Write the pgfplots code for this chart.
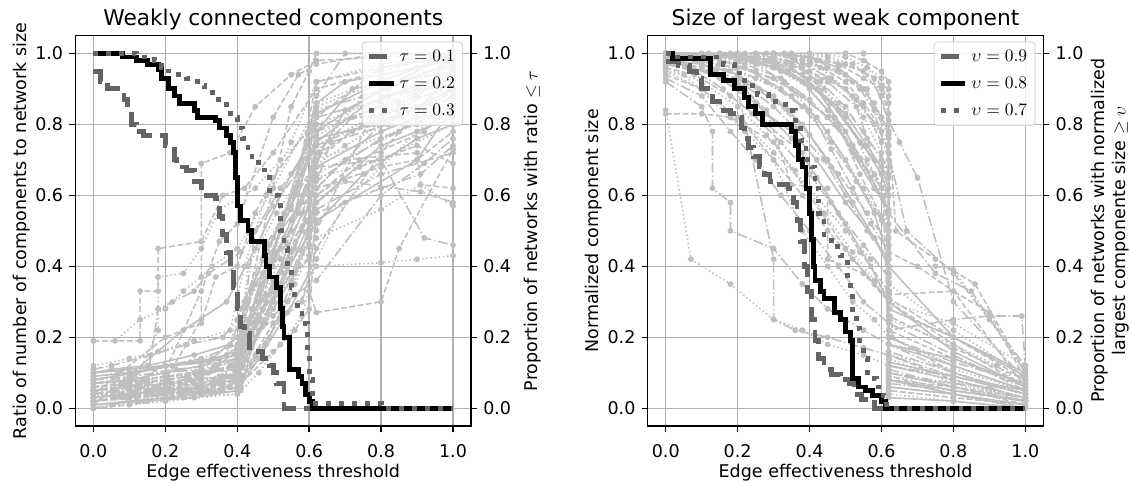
\documentclass[border=0pt]{standalone}
\usepackage[no-math]{fontspec}
\setmainfont{DejaVu Sans}
\usepackage{pgfplots}
\pgfplotsset{compat=1.18}

\definecolor{gry}{RGB}{191,191,191}
\definecolor{dk}{RGB}{100,100,100}
\definecolor{gridc}{RGB}{176,176,176}

\tikzset{
  gl/.style={color=gry, line width=0.9pt, mark=*, mark size=1.2pt, mark options={solid}},
  ga/.style={gl, dash pattern=on 3.3pt off 1.5pt},
  gb/.style={gl, dash pattern=on 5.8pt off 1.5pt on 0.9pt off 1.5pt},
  gc/.style={gl, dash pattern=on 0.9pt off 1.5pt},
  gd/.style={gl},
  t1/.style={color=dk, line width=2.8pt, dash pattern=on 10.4pt off 4.5pt},
  t2/.style={color=black, line width=2.8pt},
  t3/.style={color=dk, line width=2.8pt, dash pattern=on 2.8pt off 4.6pt},
}

\pgfplotsset{
  base/.style={
    width=226pt, height=223pt, scale only axis,
    xmin=-0.05, xmax=1.05, ymin=-0.05, ymax=1.05,
    xtick={0,0.2,0.4,0.6,0.8,1.0}, ytick={0,0.2,0.4,0.6,0.8,1.0},
    /pgf/number format/.cd, fixed, fixed zerofill, precision=1, assume math mode=true, /pgfplots/.cd,
    tick label style={font=\fontsize{10}{12}\selectfont},
    label style={font=\fontsize{10}{12}\selectfont},
    tick align=outside, major tick length=3.5pt,
    every tick/.style={black, line width=0.8pt},
    axis line style={line width=0.8pt},
  },
  mainax/.style={base,
    xtick pos=bottom, ytick pos=left,
    xticklabel style={yshift=-3.5pt},
    xlabel style={yshift=3pt},
    ylabel style={yshift=-4pt},
    grid=major, grid style={color=gridc, line width=0.8pt},
    title style={font=\fontsize{12.4}{14}\selectfont, yshift=-6pt},
    xlabel={Edge effectiveness threshold},
  },
  twinax/.style={base,
    axis x line=none, axis y line*=right, yticklabel pos=right,
    legend cell align=left,
    legend style={at={(0.98,0.985)}, anchor=north east,
      font=\fontsize{10}{12}\selectfont, draw=gridc!70, rounded corners=2pt,
      fill=white, fill opacity=0.8, draw opacity=1, text opacity=1,
      row sep=3.5pt, inner sep=2.5pt},
    legend image code/.code={\draw[#1] (0pt,0pt) -- (14pt,0pt);},
  },
}

\begin{document}
\begin{tikzpicture}
\useasboundingbox (-43.1pt,-32.6pt) rectangle (603.1pt,243.4pt);

%% ---------------- left panel ----------------
\begin{axis}[mainax, title={Weakly connected components},
  ylabel={Ratio of number of components to network size}]
\addplot[ga] coordinates {(0,0.02)(0.08,0.03)(0.18,0.05)(0.3,0.07)(0.4,0.10)(0.48,0.30)(0.58,0.55)(0.63,0.72)(0.75,0.80)(0.9,0.88)(1,0.95)};
\addplot[gb] coordinates {(0,0.05)(0.1,0.06)(0.2,0.08)(0.32,0.10)(0.41,0.15)(0.5,0.35)(0.6,0.60)(0.62,0.78)(0.8,0.85)(1,0.90)};
\addplot[gc] coordinates {(0,0.01)(0.12,0.02)(0.25,0.04)(0.38,0.06)(0.42,0.20)(0.52,0.42)(0.61,0.68)(0.7,0.74)(0.85,0.83)(1,0.88)};
\addplot[gd] coordinates {(0,0.10)(0.05,0.11)(0.15,0.12)(0.28,0.15)(0.38,0.18)(0.45,0.35)(0.55,0.50)(0.62,0.83)(0.8,0.92)(1,1.0)};
\addplot[ga] coordinates {(0,0.0)(0.1,0.01)(0.22,0.03)(0.35,0.05)(0.4,0.08)(0.46,0.22)(0.56,0.45)(0.62,0.60)(0.74,0.70)(0.92,0.78)(1,0.86)};
\addplot[gb] coordinates {(0,0.04)(0.09,0.06)(0.2,0.07)(0.3,0.09)(0.39,0.12)(0.44,0.28)(0.5,0.40)(0.6,0.58)(0.66,0.75)(0.82,0.80)(1,0.92)};
\addplot[ga] coordinates {(0,0.19)(0.13,0.19)(0.13,0.33)(0.18,0.33)(0.18,0.45)(0.3,0.47)(0.36,0.60)(0.42,0.62)(0.5,0.72)(0.62,0.90)(0.8,0.95)(1,1.0)};
\addplot[gc] coordinates {(0,0.03)(0.06,0.05)(0.17,0.06)(0.27,0.08)(0.37,0.09)(0.4,0.10)(0.43,0.30)(0.53,0.48)(0.62,0.70)(0.9,0.80)(1,0.84)};
\addplot[gd] coordinates {(0,0.07)(0.1,0.08)(0.2,0.10)(0.3,0.12)(0.4,0.14)(0.47,0.38)(0.55,0.57)(0.62,0.75)(0.75,0.85)(1,0.95)};
\addplot[gb] coordinates {(0,0.02)(0.15,0.04)(0.3,0.06)(0.41,0.08)(0.49,0.20)(0.57,0.40)(0.62,0.55)(0.8,0.62)(0.91,0.66)(1,0.74)};
\addplot[ga] coordinates {(0,0.06)(0.08,0.07)(0.2,0.09)(0.33,0.11)(0.4,0.16)(0.42,0.30)(0.52,0.52)(0.62,0.70)(0.72,0.78)(0.92,0.84)(1,0.90)};
\addplot[gc] coordinates {(0,0.0)(0.2,0.02)(0.4,0.04)(0.44,0.12)(0.54,0.30)(0.6,0.48)(0.62,0.65)(0.8,0.70)(1,0.80)};
\addplot[gb] coordinates {(0,0.11)(0.05,0.12)(0.16,0.15)(0.26,0.18)(0.36,0.20)(0.4,0.25)(0.48,0.46)(0.56,0.60)(0.62,0.84)(0.82,0.90)(1,0.98)};
\addplot[ga] coordinates {(0,0.03)(0.12,0.05)(0.24,0.06)(0.36,0.08)(0.4,0.11)(0.5,0.33)(0.62,0.62)(0.7,0.70)(0.9,0.72)(0.91,0.63)(1,0.62)};
\addplot[gb] coordinates {(0,0.05)(0.1,0.06)(0.2,0.07)(0.29,0.09)(0.38,0.12)(0.46,0.26)(0.58,0.50)(0.62,0.68)(0.8,0.70)(0.92,0.48)(1,0.46)};
\addplot[ga] coordinates {(0,0.02)(0.12,0.03)(0.25,0.05)(0.4,0.07)(0.5,0.24)(0.6,0.33)(0.62,0.27)(0.8,0.30)(0.85,0.45)(1,0.73)};
\addplot[gc] coordinates {(0,0.04)(0.1,0.05)(0.22,0.07)(0.35,0.09)(0.4,0.13)(0.45,0.24)(0.53,0.40)(0.62,0.40)(0.8,0.41)(0.9,0.42)(1,0.43)};
\addplot[gb] coordinates {(0,0.08)(0.1,0.10)(0.2,0.12)(0.3,0.14)(0.4,0.18)(0.47,0.42)(0.57,0.63)(0.62,0.88)(0.7,1.0)(1,1.0)};
\addplot[gd] coordinates {(0,0.01)(0.1,0.02)(0.2,0.03)(0.3,0.04)(0.41,0.05)(0.44,0.17)(0.5,0.28)(0.56,0.38)(0.62,0.58)(0.8,0.74)(1,0.82)};
\addplot[ga] coordinates {(0,0.06)(0.13,0.07)(0.26,0.09)(0.39,0.11)(0.41,0.22)(0.55,0.85)(0.6,0.95)(0.62,1.0)(0.8,1.0)(1,1.0)};
\addplot[ga] coordinates {(0,0.03)(0.18,0.06)(0.3,0.33)(0.35,0.47)(0.4,0.52)(0.5,0.82)(0.57,0.94)(0.62,0.97)(0.8,1.0)(1,1.0)};
\addplot[ga] coordinates {(0,0.05)(0.2,0.08)(0.3,0.25)(0.3,0.69)(0.38,0.72)(0.45,0.85)(0.55,0.94)(0.62,0.98)(1,1.0)};
\addplot[gc] coordinates {(0,0.02)(0.1,0.04)(0.18,0.22)(0.18,0.37)(0.25,0.38)(0.3,0.45)(0.35,0.56)(0.45,0.62)(0.52,0.70)(0.62,0.80)(0.82,0.88)(1,0.97)};
\addplot[gb] coordinates {(0,0.0)(0.05,0.01)(0.15,0.02)(0.28,0.04)(0.36,0.05)(0.41,0.06)(0.43,0.18)(0.5,0.36)(0.58,0.50)(0.62,0.66)(0.85,0.78)(1,0.88)};
\addplot[gc] coordinates {(0,0.09)(0.07,0.10)(0.17,0.11)(0.27,0.13)(0.37,0.15)(0.41,0.28)(0.49,0.46)(0.56,0.62)(0.62,0.77)(0.8,0.86)(1,0.94)};
\addplot[gd] coordinates {(0,0.03)(0.08,0.04)(0.19,0.05)(0.29,0.06)(0.39,0.08)(0.47,0.23)(0.53,0.38)(0.62,0.52)(0.75,0.66)(0.9,0.76)(1,0.80)};
\addplot[gb] coordinates {(0,0.07)(0.11,0.09)(0.23,0.11)(0.34,0.12)(0.4,0.14)(0.45,0.50)(0.52,0.62)(0.6,0.72)(0.62,0.82)(0.9,0.90)(1,0.92)};
\addplot[ga] coordinates {(0,0.02)(0.06,0.03)(0.16,0.04)(0.26,0.05)(0.36,0.06)(0.4,0.07)(0.52,0.35)(0.6,0.42)(0.62,0.62)(0.8,0.68)(0.9,0.70)(1,0.78)};
\addplot[gc] coordinates {(0,0.05)(0.15,0.08)(0.3,0.10)(0.4,0.12)(0.43,0.40)(0.51,0.55)(0.58,0.66)(0.62,0.74)(0.85,0.86)(1,0.93)};
\addplot[gb] coordinates {(0,0.04)(0.1,0.05)(0.2,0.06)(0.3,0.08)(0.4,0.09)(0.41,0.20)(0.48,0.32)(0.55,0.44)(0.62,0.58)(0.7,0.64)(0.91,0.61)(1,0.58)};
\addplot[gd] coordinates {(0,0.01)(0.14,0.02)(0.28,0.03)(0.4,0.05)(0.46,0.14)(0.54,0.27)(0.6,0.38)(0.62,0.53)(0.9,0.70)(1,0.85)};
\addplot[gc] coordinates {(0,0.12)(0.1,0.14)(0.18,0.16)(0.28,0.19)(0.38,0.22)(0.42,0.40)(0.48,0.60)(0.55,0.75)(0.62,0.92)(0.8,0.97)(1,1.0)};
\addplot[ga] coordinates {(0,0.06)(0.09,0.07)(0.21,0.08)(0.31,0.10)(0.4,0.12)(0.46,0.32)(0.55,0.53)(0.6,0.64)(0.62,0.80)(0.8,0.83)(1,0.87)};
\addplot[gb] coordinates {(0,0.03)(0.11,0.04)(0.22,0.05)(0.33,0.07)(0.4,0.09)(0.51,0.44)(0.58,0.60)(0.62,0.72)(0.72,0.82)(1,0.93)};
\addplot[gc] coordinates {(0,0.0)(0.1,0.02)(0.2,0.04)(0.3,0.05)(0.4,0.06)(0.48,0.18)(0.56,0.35)(0.62,0.48)(0.8,0.56)(0.91,0.63)(1,0.57)};
\addplot[gc] coordinates {(0,0.19)(0.06,0.19)(0.13,0.25)(0.2,0.28)(0.25,0.33)(0.3,0.37)(0.33,0.40)(0.4,0.45)(0.5,0.62)(0.62,0.85)(1,1.0)};
\addplot[gd] coordinates {(0,0.08)(0.12,0.10)(0.22,0.12)(0.32,0.13)(0.4,0.15)(0.44,0.34)(0.53,0.55)(0.62,0.76)(0.78,0.80)(0.9,0.85)(1,0.90)};
\addplot[ga] coordinates {(0,0.05)(0.13,0.06)(0.26,0.08)(0.38,0.09)(0.41,0.12)(0.5,0.30)(0.6,0.46)(0.62,0.60)(0.74,0.68)(0.9,0.74)(1,0.69)};
\addplot[gb] coordinates {(0,0.02)(0.09,0.03)(0.18,0.04)(0.27,0.05)(0.36,0.07)(0.4,0.08)(0.45,0.20)(0.55,0.42)(0.62,0.64)(0.8,0.76)(1,0.85)};
\addplot[gd] coordinates {(0,0.10)(0.1,0.11)(0.2,0.12)(0.3,0.13)(0.4,0.16)(0.5,0.44)(0.57,0.68)(0.62,0.86)(0.7,0.92)(0.9,0.96)(1,0.98)};
\addplot[ga] coordinates {(0,0.04)(0.2,0.20)(0.3,0.24)(0.34,0.37)(0.4,0.40)(0.45,0.55)(0.5,0.65)(0.62,0.82)(0.8,0.96)(1,1.0)};
\addplot[gd] coordinates {(0,0.01)(0.25,0.22)(0.37,0.30)(0.45,0.45)(0.55,0.66)(0.62,0.78)(0.8,0.90)(1,1.0)};
\addplot[gb] coordinates {(0,0.07)(0.15,0.08)(0.18,0.28)(0.22,0.30)(0.28,0.33)(0.32,0.38)(0.41,0.44)(0.5,0.57)(0.62,0.74)(0.8,0.82)(1,0.92)};
\addplot[gd] coordinates {(0,0.03)(0.1,0.04)(0.2,0.05)(0.3,0.06)(0.4,0.10)(0.43,0.25)(0.47,0.35)(0.52,0.45)(0.57,0.55)(0.62,0.70)(0.7,0.84)(0.85,0.92)(1,0.97)};
\addplot[gb] coordinates {(0,0.08)(0.1,0.09)(0.2,0.10)(0.3,0.11)(0.4,0.13)(0.42,0.18)(0.5,0.30)(0.55,0.38)(0.6,0.50)(0.62,0.62)(0.8,0.80)(1,0.89)};
\addplot[ga] coordinates {(0,0.02)(0.1,0.03)(0.2,0.04)(0.32,0.05)(0.4,0.06)(0.45,0.15)(0.52,0.25)(0.58,0.30)(0.62,0.45)(0.8,0.72)(1,0.95)};
\addplot[gc] coordinates {(0,0.05)(0.12,0.06)(0.24,0.07)(0.36,0.09)(0.41,0.14)(0.47,0.28)(0.55,0.36)(0.6,0.43)(0.62,0.72)(0.75,0.88)(1,0.96)};
\addplot[gd] coordinates {(0,0.10)(0.2,0.12)(0.35,0.14)(0.4,0.17)(0.46,0.30)(0.52,0.50)(0.58,0.58)(0.62,0.68)(0.8,0.78)(0.9,0.82)(1,0.83)};
\addplot[gb] coordinates {(0,0.04)(0.15,0.05)(0.28,0.07)(0.39,0.09)(0.43,0.22)(0.5,0.26)(0.56,0.32)(0.62,0.36)(0.8,0.60)(0.92,0.69)(1,0.76)};
\addplot[gc] coordinates {(0,0.01)(0.1,0.02)(0.25,0.03)(0.4,0.04)(0.46,0.10)(0.52,0.18)(0.58,0.26)(0.62,0.42)(0.7,0.58)(0.9,0.78)(1,0.85)};
\addplot[ga] coordinates {(0,0.06)(0.14,0.08)(0.28,0.10)(0.4,0.12)(0.5,0.48)(0.55,0.56)(0.62,0.92)(0.8,0.96)(1,0.99)};
\addplot[gd] coordinates {(0,0.09)(0.1,0.10)(0.22,0.12)(0.33,0.14)(0.4,0.20)(0.44,0.24)(0.52,0.34)(0.6,0.52)(0.62,0.78)(0.72,0.90)(1,0.95)};
\addplot[gb] coordinates {(0,0.03)(0.2,0.05)(0.4,0.07)(0.42,0.16)(0.48,0.24)(0.54,0.46)(0.62,0.56)(0.8,0.66)(1,0.72)};
\addplot[gc] coordinates {(0,0.07)(0.1,0.08)(0.2,0.09)(0.3,0.10)(0.4,0.11)(0.43,0.20)(0.5,0.42)(0.58,0.70)(0.62,0.86)(0.8,0.93)(1,0.96)};
\addplot[ga] coordinates {(0,0.02)(0.12,0.03)(0.24,0.04)(0.36,0.05)(0.4,0.06)(0.5,0.16)(0.56,0.22)(0.6,0.28)(0.62,0.50)(0.8,0.88)(1,0.91)};
\end{axis}

\begin{axis}[twinax, ylabel style={yshift=-0.5pt},
  ylabel={Proportion of networks with ratio $\leq\tau$}]
\addplot[t1, const plot] coordinates {(0,0.95)(0.02,0.92)(0.04,0.90)(0.08,0.89)(0.085,0.87)(0.095,0.84)(0.105,0.80)(0.12,0.78)(0.14,0.77)(0.20,0.74)(0.225,0.70)(0.23,0.68)(0.26,0.67)(0.28,0.64)(0.30,0.60)(0.34,0.59)(0.35,0.54)(0.36,0.49)(0.37,0.44)(0.38,0.40)(0.39,0.34)(0.40,0.28)(0.41,0.23)(0.42,0.21)(0.435,0.16)(0.47,0.14)(0.49,0.12)(0.50,0.10)(0.51,0.07)(0.53,0.0)(1.0,0.0)};
\addlegendentry{$\tau=0.1$}
\addplot[t2, const plot] coordinates {(0,1.0)(0.08,0.99)(0.12,0.98)(0.15,0.97)(0.18,0.955)(0.19,0.93)(0.21,0.90)(0.225,0.88)(0.24,0.86)(0.28,0.84)(0.29,0.82)(0.34,0.81)(0.35,0.79)(0.37,0.77)(0.38,0.75)(0.39,0.72)(0.395,0.65)(0.40,0.57)(0.41,0.53)(0.43,0.50)(0.44,0.47)(0.475,0.43)(0.48,0.40)(0.49,0.37)(0.51,0.34)(0.52,0.28)(0.525,0.23)(0.53,0.20)(0.545,0.11)(0.57,0.09)(0.58,0.07)(0.59,0.04)(0.60,0.02)(0.61,0.0)(1.0,0.0)};
\addlegendentry{$\tau=0.2$}
\addplot[t3, const plot] coordinates {(0,1.0)(0.12,0.99)(0.17,0.98)(0.19,0.96)(0.21,0.94)(0.26,0.93)(0.29,0.91)(0.31,0.89)(0.33,0.87)(0.37,0.84)(0.38,0.82)(0.40,0.79)(0.415,0.76)(0.43,0.71)(0.46,0.68)(0.475,0.65)(0.49,0.60)(0.515,0.58)(0.52,0.50)(0.53,0.45)(0.54,0.40)(0.55,0.34)(0.56,0.29)(0.58,0.24)(0.595,0.16)(0.60,0.08)(0.61,0.013)(0.80,0.0)(1.0,0.0)};
\addlegendentry{$\tau=0.3$}
\end{axis}

%% ---------------- right panel ----------------
\begin{scope}[xshift=327pt]
\begin{axis}[mainax, title={Size of largest weak component},
  ylabel={Normalized component size}]
\addplot[ga] coordinates {(0,1.0)(0.15,1.0)(0.3,0.98)(0.4,0.95)(0.5,0.9)(0.55,0.85)(0.6,0.75)(0.62,0.15)(0.8,0.08)(1,0.03)};
\addplot[gb] coordinates {(0,1.0)(0.2,1.0)(0.35,0.97)(0.45,0.92)(0.53,0.85)(0.58,0.70)(0.62,0.60)(0.62,0.10)(0.8,0.06)(1,0.02)};
\addplot[gc] coordinates {(0,0.98)(0.1,0.97)(0.25,0.93)(0.35,0.88)(0.45,0.78)(0.55,0.62)(0.62,0.50)(0.62,0.20)(0.8,0.12)(1,0.05)};
\addplot[gb] coordinates {(0,1.0)(0.25,1.0)(0.4,1.0)(0.5,1.0)(0.55,1.0)(0.62,0.81)(0.65,0.75)(0.7,0.65)(0.8,0.30)(1,0.08)};
\addplot[ga] coordinates {(0,1.0)(0.3,1.0)(0.45,0.98)(0.55,0.95)(0.6,0.88)(0.62,0.80)(0.64,0.50)(0.75,0.42)(0.86,0.35)(1,0.10)};
\addplot[gd] coordinates {(0,1.0)(0.12,0.99)(0.22,0.96)(0.32,0.9)(0.42,0.82)(0.5,0.70)(0.58,0.55)(0.62,0.42)(0.62,0.08)(0.8,0.04)(1,0.0)};
\addplot[ga] coordinates {(0,0.96)(0.08,0.94)(0.18,0.88)(0.28,0.80)(0.38,0.72)(0.46,0.58)(0.54,0.44)(0.62,0.33)(0.62,0.05)(0.8,0.03)(1,0.01)};
\addplot[gc] coordinates {(0,0.84)(0.07,0.42)(0.18,0.35)(0.3,0.25)(0.38,0.22)(0.45,0.18)(0.55,0.15)(0.62,0.12)(0.8,0.08)(1,0.02)};
\addplot[gb] coordinates {(0,0.92)(0.1,0.85)(0.13,0.78)(0.13,0.62)(0.18,0.58)(0.18,0.50)(0.3,0.45)(0.38,0.35)(0.45,0.28)(0.55,0.22)(0.62,0.18)(0.8,0.10)(1,0.04)};
\addplot[ga] coordinates {(0,0.83)(0.1,0.83)(0.18,0.82)(0.3,0.75)(0.4,0.60)(0.5,0.45)(0.62,0.30)(0.62,0.12)(0.8,0.08)(1,0.03)};
\addplot[gb] coordinates {(0,0.97)(0.12,0.95)(0.2,0.90)(0.3,0.42)(0.3,0.25)(0.36,0.22)(0.45,0.20)(0.55,0.17)(0.62,0.15)(0.8,0.09)(1,0.04)};
\addplot[gc] coordinates {(0,1.0)(0.2,1.0)(0.3,1.0)(0.38,0.98)(0.45,0.93)(0.52,0.88)(0.58,0.80)(0.62,0.74)(0.62,0.25)(0.8,0.18)(0.92,0.12)(1,0.06)};
\addplot[gd] coordinates {(0,1.0)(0.1,1.0)(0.25,0.99)(0.35,0.96)(0.42,0.90)(0.5,0.78)(0.57,0.65)(0.62,0.56)(0.62,0.18)(0.8,0.12)(1,0.05)};
\addplot[gb] coordinates {(0,0.99)(0.15,0.98)(0.25,0.95)(0.35,0.90)(0.45,0.82)(0.52,0.73)(0.6,0.62)(0.62,0.55)(0.75,0.38)(0.85,0.33)(1,0.10)};
\addplot[ga] coordinates {(0,1.0)(0.2,1.0)(0.33,1.0)(0.4,0.99)(0.48,0.97)(0.55,0.93)(0.6,0.90)(0.62,0.83)(0.62,0.32)(0.8,0.33)(0.9,0.27)(1,0.08)};
\addplot[gc] coordinates {(0,0.95)(0.1,0.9)(0.2,0.82)(0.3,0.72)(0.4,0.62)(0.5,0.50)(0.57,0.42)(0.62,0.38)(0.62,0.14)(0.8,0.07)(1,0.02)};
\addplot[gb] coordinates {(0,1.0)(0.25,0.99)(0.4,0.97)(0.5,0.94)(0.56,0.90)(0.62,0.70)(0.62,0.22)(0.8,0.25)(0.9,0.26)(0.99,0.26)(1,0.12)};
\addplot[gd] coordinates {(0,1.0)(0.18,1.0)(0.28,0.98)(0.38,0.94)(0.46,0.86)(0.54,0.75)(0.6,0.68)(0.62,0.62)(0.62,0.06)(0.8,0.04)(1,0.01)};
\addplot[ga] coordinates {(0,0.97)(0.1,0.96)(0.2,0.93)(0.3,0.87)(0.4,0.77)(0.48,0.66)(0.56,0.55)(0.62,0.46)(0.62,0.10)(0.8,0.06)(1,0.03)};
\addplot[gc] coordinates {(0,1.0)(0.3,1.0)(0.4,1.0)(0.5,0.99)(0.56,0.96)(0.6,0.93)(0.62,0.88)(0.62,0.40)(0.75,0.40)(0.8,0.39)(1,0.11)};
\addplot[gd] coordinates {(0,0.98)(0.05,0.97)(0.15,0.93)(0.25,0.86)(0.35,0.76)(0.42,0.65)(0.5,0.52)(0.57,0.40)(0.62,0.30)(0.8,0.16)(1,0.06)};
\addplot[gb] coordinates {(0,1.0)(0.1,0.99)(0.22,0.97)(0.32,0.93)(0.4,0.87)(0.47,0.80)(0.54,0.70)(0.6,0.60)(0.62,0.52)(0.62,0.20)(0.8,0.13)(1,0.07)};
\addplot[ga] coordinates {(0,0.94)(0.1,0.9)(0.22,0.80)(0.3,0.70)(0.38,0.60)(0.45,0.50)(0.52,0.42)(0.58,0.35)(0.62,0.31)(0.8,0.20)(1,0.08)};
\addplot[gc] coordinates {(0,1.0)(0.2,1.0)(0.35,0.99)(0.45,0.96)(0.52,0.92)(0.58,0.86)(0.62,0.78)(0.62,0.05)(0.8,0.03)(1,0.01)};
\addplot[gb] coordinates {(0,0.99)(0.15,0.97)(0.28,0.92)(0.38,0.85)(0.46,0.75)(0.53,0.64)(0.6,0.53)(0.62,0.48)(0.62,0.16)(0.8,0.10)(1,0.04)};
\addplot[gd] coordinates {(0,1.0)(0.12,1.0)(0.24,0.98)(0.34,0.95)(0.42,0.90)(0.5,0.83)(0.56,0.74)(0.62,0.65)(0.62,0.28)(0.8,0.20)(1,0.10)};
\addplot[gc] coordinates {(0,0.96)(0.1,0.92)(0.2,0.85)(0.28,0.77)(0.36,0.67)(0.44,0.55)(0.52,0.44)(0.58,0.36)(0.62,0.32)(0.62,0.12)(0.8,0.08)(1,0.03)};
\addplot[ga] coordinates {(0,1.0)(0.3,1.0)(0.4,0.99)(0.5,0.97)(0.55,0.95)(0.6,0.91)(0.62,0.86)(0.62,0.09)(0.8,0.05)(1,0.02)};
\addplot[gb] coordinates {(0,0.93)(0.1,0.88)(0.18,0.78)(0.25,0.70)(0.32,0.60)(0.4,0.50)(0.48,0.40)(0.55,0.30)(0.62,0.24)(0.8,0.15)(1,0.05)};
\addplot[gd] coordinates {(0,1.0)(0.18,0.99)(0.3,0.96)(0.4,0.91)(0.48,0.84)(0.55,0.74)(0.6,0.66)(0.62,0.60)(0.62,0.13)(0.8,0.09)(1,0.05)};
\addplot[ga] coordinates {(0,0.99)(0.08,0.98)(0.2,0.96)(0.3,0.93)(0.38,0.88)(0.45,0.82)(0.52,0.74)(0.58,0.66)(0.62,0.60)(0.63,0.20)(0.8,0.10)(1,0.04)};
\addplot[gc] coordinates {(0,1.0)(0.22,1.0)(0.35,1.0)(0.45,0.99)(0.52,0.97)(0.58,0.93)(0.62,0.90)(0.62,0.35)(0.8,0.22)(1,0.09)};
\addplot[gb] coordinates {(0,0.97)(0.12,0.95)(0.22,0.91)(0.3,0.85)(0.36,0.79)(0.44,0.70)(0.5,0.60)(0.56,0.50)(0.62,0.42)(0.62,0.06)(0.8,0.04)(1,0.0)};
\addplot[ga] coordinates {(0,1.0)(0.25,1.0)(0.3,1.0)(0.4,0.98)(0.5,0.92)(0.55,0.86)(0.62,0.76)(0.62,0.44)(0.7,0.40)(0.8,0.33)(1,0.06)};
\addplot[ga] coordinates {(0,0.98)(0.1,0.96)(0.2,0.92)(0.28,0.84)(0.35,0.63)(0.45,0.62)(0.45,0.42)(0.55,0.38)(0.62,0.30)(0.8,0.18)(1,0.06)};
\addplot[gd] coordinates {(0,1.0)(0.06,0.99)(0.14,0.95)(0.22,0.90)(0.28,0.83)(0.35,0.78)(0.42,0.70)(0.5,0.58)(0.58,0.48)(0.62,0.40)(0.62,0.08)(0.8,0.05)(1,0.02)};
\addplot[gb] coordinates {(0,0.99)(0.2,0.99)(0.3,0.99)(0.38,0.97)(0.46,0.93)(0.53,0.87)(0.6,0.78)(0.62,0.72)(0.67,0.50)(0.8,0.38)(0.9,0.25)(1,0.12)};
\addplot[gc] coordinates {(0,1.0)(0.1,1.0)(0.2,0.99)(0.3,0.97)(0.4,0.93)(0.48,0.86)(0.55,0.78)(0.6,0.70)(0.62,0.66)(0.62,0.04)(0.8,0.02)(1,0.0)};
\addplot[gc] coordinates {(0,0.95)(0.05,0.94)(0.18,0.82)(0.22,0.78)(0.3,0.70)(0.38,0.50)(0.45,0.40)(0.52,0.30)(0.58,0.25)(0.62,0.20)(0.8,0.12)(1,0.05)};
\addplot[gb] coordinates {(0,1.0)(0.15,1.0)(0.25,0.99)(0.35,0.97)(0.43,0.92)(0.5,0.85)(0.56,0.76)(0.62,0.68)(0.62,0.10)(0.8,0.07)(0.9,0.06)(1,0.02)};
\addplot[gd] coordinates {(0,1.0)(0.2,0.99)(0.3,0.97)(0.38,0.92)(0.45,0.84)(0.52,0.72)(0.58,0.62)(0.62,0.56)(0.62,0.03)(0.8,0.02)(1,0.0)};
\addplot[ga] coordinates {(0,1.0)(0.3,1.0)(0.36,0.98)(0.42,0.92)(0.48,0.80)(0.54,0.66)(0.6,0.54)(0.62,0.50)(0.62,0.22)(0.8,0.14)(1,0.06)};
\addplot[gb] coordinates {(0,0.99)(0.15,0.99)(0.25,0.97)(0.33,0.92)(0.4,0.84)(0.46,0.73)(0.52,0.62)(0.57,0.52)(0.62,0.44)(0.62,0.07)(0.8,0.05)(1,0.02)};
\addplot[gc] coordinates {(0,1.0)(0.25,1.0)(0.35,0.99)(0.43,0.96)(0.5,0.90)(0.55,0.82)(0.6,0.72)(0.62,0.66)(0.62,0.15)(0.8,0.11)(1,0.05)};
\addplot[gd] coordinates {(0,0.98)(0.1,0.97)(0.2,0.94)(0.3,0.88)(0.38,0.80)(0.45,0.70)(0.52,0.58)(0.58,0.48)(0.62,0.40)(0.8,0.20)(1,0.09)};
\addplot[gb] coordinates {(0,1.0)(0.35,1.0)(0.42,0.98)(0.48,0.95)(0.54,0.90)(0.58,0.84)(0.62,0.77)(0.62,0.12)(0.8,0.09)(1,0.04)};
\addplot[ga] coordinates {(0,1.0)(0.1,0.98)(0.18,0.95)(0.26,0.90)(0.34,0.84)(0.4,0.77)(0.46,0.68)(0.52,0.58)(0.58,0.48)(0.62,0.42)(0.62,0.26)(0.8,0.17)(1,0.08)};
\addplot[gc] coordinates {(0,0.99)(0.2,0.98)(0.32,0.95)(0.4,0.9)(0.47,0.82)(0.53,0.71)(0.58,0.62)(0.62,0.55)(0.62,0.09)(0.8,0.07)(1,0.03)};
\addplot[gd] coordinates {(0,1.0)(0.28,1.0)(0.4,0.99)(0.48,0.96)(0.55,0.9)(0.6,0.82)(0.62,0.78)(0.62,0.18)(0.8,0.14)(1,0.07)};
\addplot[gb] coordinates {(0,0.97)(0.08,0.95)(0.16,0.9)(0.24,0.83)(0.32,0.75)(0.4,0.66)(0.48,0.55)(0.55,0.46)(0.62,0.37)(0.62,0.11)(0.8,0.06)(1,0.02)};
\addplot[gc] coordinates {(0,1.0)(0.2,1.0)(0.3,0.99)(0.38,0.96)(0.44,0.9)(0.5,0.82)(0.56,0.7)(0.61,0.6)(0.62,0.3)(0.8,0.24)(1,0.12)};
\addplot[ga] coordinates {(0,1.0)(0.4,1.0)(0.5,1.0)(0.55,0.98)(0.6,0.95)(0.62,0.92)(0.62,0.08)(0.8,0.06)(1,0.01)};
\end{axis}

\begin{axis}[twinax, ylabel style={align=center, yshift=2.5pt},
  ylabel={Proportion of networks with normalized\\largest componente size $\geq\upsilon$}]
\addplot[t1, const plot] coordinates {(0,0.977)(0.035,0.967)(0.065,0.95)(0.085,0.93)(0.10,0.90)(0.115,0.88)(0.13,0.865)(0.15,0.84)(0.18,0.83)(0.20,0.82)(0.21,0.79)(0.22,0.76)(0.23,0.735)(0.245,0.71)(0.26,0.68)(0.275,0.66)(0.29,0.64)(0.31,0.63)(0.34,0.62)(0.355,0.58)(0.365,0.53)(0.375,0.47)(0.385,0.40)(0.395,0.33)(0.405,0.25)(0.415,0.19)(0.425,0.14)(0.44,0.11)(0.46,0.095)(0.485,0.08)(0.51,0.07)(0.525,0.04)(0.545,0.025)(0.565,0.015)(0.58,0.0)(1.0,0.0)};
\addlegendentry{$\upsilon=0.9$}
\addplot[t2, const plot] coordinates {(0,1.0)(0.02,0.986)(0.125,0.94)(0.16,0.925)(0.19,0.90)(0.22,0.875)(0.23,0.85)(0.25,0.83)(0.27,0.80)(0.35,0.78)(0.36,0.74)(0.37,0.70)(0.38,0.68)(0.39,0.62)(0.40,0.55)(0.405,0.475)(0.41,0.40)(0.415,0.36)(0.43,0.33)(0.44,0.31)(0.47,0.27)(0.485,0.25)(0.50,0.215)(0.515,0.19)(0.52,0.085)(0.535,0.06)(0.555,0.05)(0.575,0.035)(0.60,0.02)(0.61,0.0)(1.0,0.0)};
\addlegendentry{$\upsilon=0.8$}
\addplot[t3, const plot] coordinates {(0,1.0)(0.025,0.99)(0.16,0.97)(0.19,0.945)(0.22,0.91)(0.255,0.885)(0.285,0.865)(0.315,0.855)(0.345,0.84)(0.36,0.81)(0.375,0.755)(0.39,0.70)(0.405,0.68)(0.415,0.62)(0.425,0.55)(0.44,0.49)(0.46,0.455)(0.485,0.43)(0.505,0.375)(0.515,0.33)(0.52,0.27)(0.53,0.225)(0.54,0.18)(0.55,0.14)(0.56,0.085)(0.585,0.06)(0.605,0.035)(0.615,0.01)(0.63,0.0)(1.0,0.0)};
\addlegendentry{$\upsilon=0.7$}
\end{axis}
\end{scope}
\end{tikzpicture}
\end{document}
